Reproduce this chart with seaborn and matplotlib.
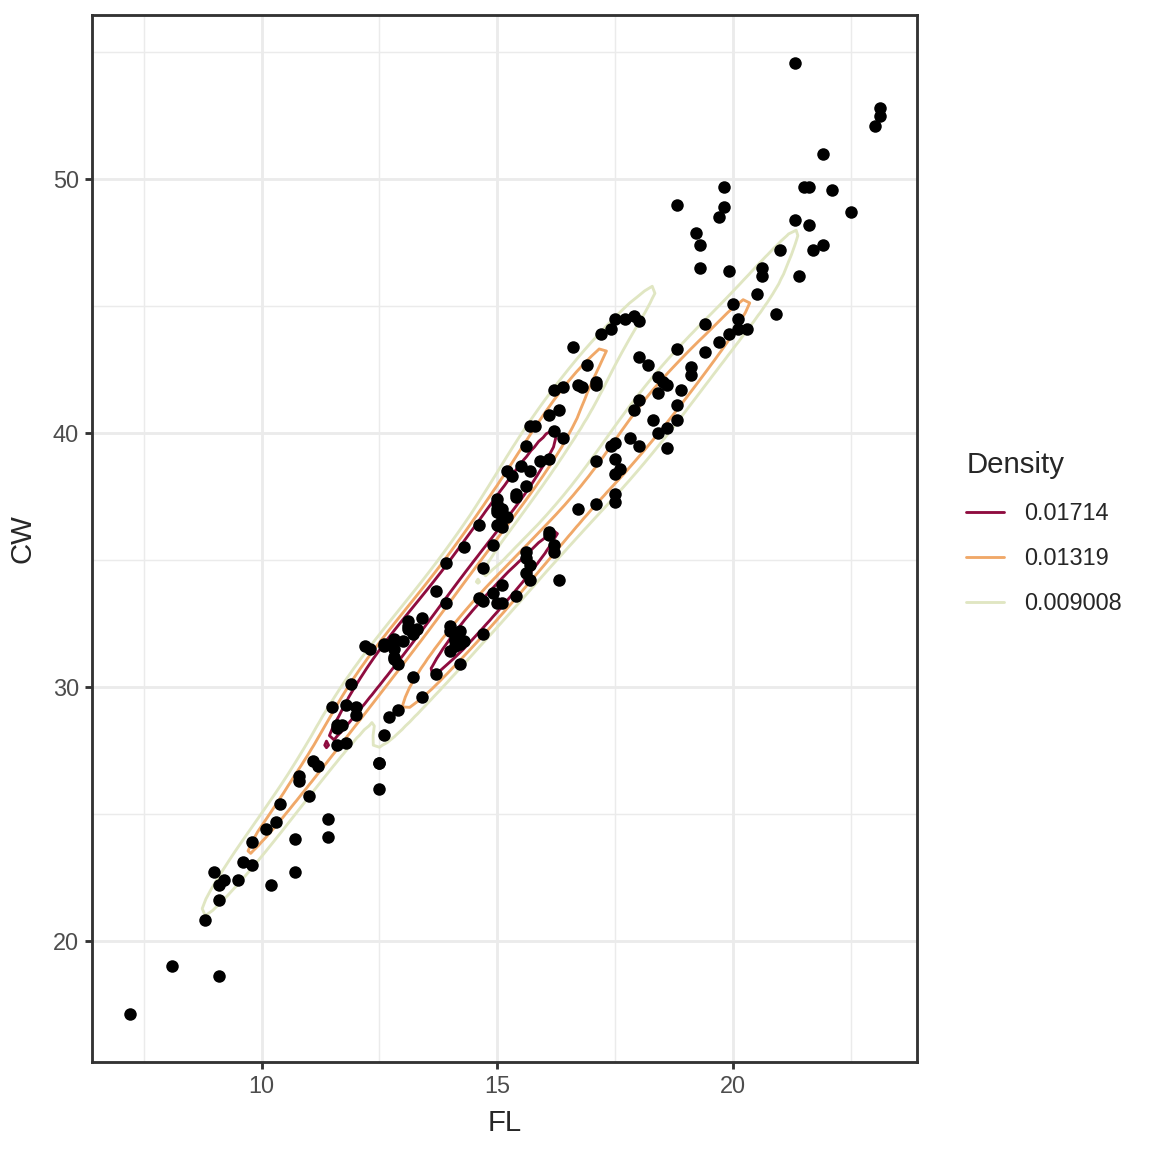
import numpy as np
import pandas as pd
import matplotlib
matplotlib.use("Agg")
import matplotlib.pyplot as plt
from matplotlib.lines import Line2D
import seaborn as sns

# crabs data: frontal lobe (FL) and carapace width (CW)
fl_blue_m = [8.1, 8.8, 9.2, 9.6, 9.8, 10.8, 11.1, 11.6, 11.8, 11.8, 12.2, 12.3, 12.6, 12.8, 12.8,
             12.9, 13.1, 13.1, 13.3, 13.9, 14.3, 14.6, 15.0, 15.0, 15.0, 15.2, 15.4, 15.7, 15.9, 16.1,
             16.1, 16.2, 16.3, 16.4, 16.6, 16.8, 16.9, 17.1, 17.1, 17.2, 17.7, 17.9, 18.0, 18.8, 19.3,
             19.3, 19.7, 19.8, 19.8, 21.3]
cw_blue_m = [19.0, 20.8, 22.4, 23.1, 23.0, 26.5, 27.1, 28.4, 27.8, 29.3, 31.6, 31.5, 31.7, 31.8, 31.5,
             30.9, 32.3, 32.4, 32.3, 33.3, 35.5, 36.4, 36.4, 37.0, 37.2, 36.7, 37.5, 40.3, 38.9, 39.0,
             40.7, 41.7, 40.9, 41.8, 43.4, 41.8, 42.7, 42.0, 41.9, 43.9, 44.5, 44.6, 44.4, 49.0, 47.4,
             46.5, 48.5, 49.7, 48.9, 54.6]
fl_blue_f = [7.2, 9.0, 9.1, 9.1, 9.5, 9.8, 10.1, 10.3, 10.4, 10.8, 11.0, 11.2, 11.5, 11.6, 11.6,
             11.7, 11.9, 12.0, 12.0, 12.6, 12.8, 12.8, 12.8, 13.0, 13.1, 13.2, 13.4, 13.7, 13.9, 14.7,
             14.9, 15.0, 15.0, 15.1, 15.1, 15.1, 15.2, 15.3, 15.4, 15.5, 15.6, 15.6, 15.7, 15.8, 16.2,
             16.4, 16.7, 17.4, 17.5, 19.2]
cw_blue_f = [17.1, 22.7, 21.6, 22.2, 22.4, 23.9, 24.4, 24.7, 25.4, 26.3, 25.7, 26.9, 29.2, 28.5, 27.7,
             28.5, 30.1, 28.9, 29.2, 31.6, 31.2, 31.1, 31.9, 31.8, 32.6, 32.1, 32.7, 33.8, 34.9, 34.7,
             35.6, 36.9, 37.4, 36.3, 37.0, 36.6, 38.5, 38.3, 37.6, 38.7, 37.9, 39.5, 38.5, 40.3, 40.1,
             39.8, 41.9, 44.1, 44.5, 47.9]
fl_orange_m = [9.1, 10.2, 10.7, 11.4, 12.5, 12.5, 12.7, 13.2, 13.4, 13.7, 14.0, 14.1, 14.1, 14.1, 14.2,
               14.2, 14.2, 14.6, 14.7, 15.1, 15.1, 15.4, 15.7, 16.2, 16.3, 17.1, 17.4, 17.5, 17.5, 17.8,
               17.9, 18.0, 18.2, 18.4, 18.6, 18.6, 18.8, 18.8, 19.4, 19.4, 20.1, 20.6, 21.0, 21.5, 21.6,
               21.6, 21.9, 22.1, 23.0, 23.1]
cw_orange_m = [18.6, 22.2, 22.7, 24.8, 26.0, 27.0, 28.8, 30.4, 29.6, 30.5, 32.2, 31.8, 31.6, 31.9, 31.7,
               30.9, 32.2, 33.5, 32.1, 33.3, 34.0, 33.6, 34.2, 35.3, 34.2, 38.9, 39.5, 37.3, 38.4, 39.8,
               40.9, 41.3, 42.7, 42.2, 41.9, 40.2, 41.1, 43.3, 43.2, 44.3, 44.5, 46.5, 47.2, 49.7, 49.7,
               48.2, 51.0, 49.6, 52.1, 52.8]
fl_orange_f = [10.7, 11.4, 12.5, 12.6, 12.9, 14.0, 14.0, 14.3, 14.7, 14.9, 15.0, 15.6, 15.6, 15.6, 15.7,
               16.1, 16.1, 16.2, 16.7, 17.1, 17.5, 17.5, 17.5, 17.6, 18.0, 18.0, 18.3, 18.4, 18.4, 18.5,
               18.6, 18.8, 18.9, 19.1, 19.1, 19.7, 19.9, 19.9, 20.0, 20.1, 20.3, 20.5, 20.6, 20.9, 21.3,
               21.4, 21.7, 21.9, 22.5, 23.1]
cw_orange_f = [24.0, 24.1, 27.0, 28.1, 29.1, 31.4, 32.4, 31.8, 33.4, 33.7, 33.3, 35.1, 35.3, 34.5, 34.8,
               36.0, 36.1, 35.6, 37.0, 37.2, 39.6, 39.0, 37.6, 38.6, 39.5, 43.0, 40.5, 40.0, 41.6, 42.0,
               39.4, 40.5, 41.7, 42.3, 42.6, 43.6, 43.9, 46.4, 45.1, 44.1, 44.1, 45.5, 46.2, 44.7, 48.4,
               46.2, 47.2, 47.4, 48.7, 52.5]

density_levels = [0.009008, 0.01319, 0.01714]
level_labels = ["0.009008", "0.01319", "0.01714"]
level_colors = ["#E0E6C2", "#F0A868", "#8F0C3F"]

df = pd.DataFrame({
    "FL": fl_blue_m + fl_blue_f + fl_orange_m + fl_orange_f,
    "CW": cw_blue_m + cw_blue_f + cw_orange_m + cw_orange_f,
})

# 2d gaussian kde, full covariance bandwidth
pts = df[["FL", "CW"]].values
n = len(pts)
factor = 0.30
H = np.cov(pts.T) * factor ** 2
Hinv = np.linalg.inv(H)
norm = 1 / (2 * np.pi * np.sqrt(np.linalg.det(H)) * n)

gx = np.linspace(df.FL.min(), df.FL.max(), 100)
gy = np.linspace(df.CW.min(), df.CW.max(), 100)
XX, YY = np.meshgrid(gx, gy)
grid = np.stack([XX.ravel(), YY.ravel()], axis=1)
d = grid[:, None, :] - pts[None, :, :]
q = np.einsum("gni,ij,gnj->gn", d, Hinv, d)
dens = (np.exp(-0.5 * q).sum(axis=1) * norm).reshape(XX.shape)

sns.set_theme(style="white")
plt.rcParams["font.family"] = ["Liberation Sans", "DejaVu Sans"]

fig = plt.figure(figsize=(6, 6), dpi=192)
ax = fig.add_axes([92 / 1152, 1 - 1062 / 1152, (917 - 92) / 1152, (1062 - 15) / 1152])

ax.contour(gx, gy, dens, levels=density_levels, colors=level_colors, linewidths=1.07, zorder=2)
sns.scatterplot(data=df, x="FL", y="CW", color="black", s=22, linewidth=0, ax=ax, zorder=3)

ax.set_xlim(6.405, 23.895)
ax.set_ylim(15.225, 56.475)
ax.set_xticks([10, 15, 20])
ax.set_yticks([20, 30, 40, 50])
ax.set_xticks([7.5, 12.5, 17.5, 22.5], minor=True)
ax.set_yticks([25, 35, 45, 55], minor=True)
ax.grid(True, which="major", color="#EBEBEB", linewidth=1.07, zorder=0)
ax.grid(True, which="minor", color="#EBEBEB", linewidth=0.53, zorder=0)
ax.set_axisbelow(True)
ax.tick_params(which="major", length=2.75, width=1.07, color="#333333", labelsize=8.8,
               labelcolor="#4D4D4D", pad=2.2, bottom=True, left=True)
ax.tick_params(which="minor", length=0)
for sp in ax.spines.values():
    sp.set_color("#333333")
    sp.set_linewidth(1.07)
ax.set_xlabel("FL", fontsize=11, labelpad=4)
ax.set_ylabel("CW", fontsize=11, labelpad=6)

handles = [Line2D([], [], color=c, linewidth=1.07) for c in level_colors[::-1]]
fig.legend(handles, level_labels[::-1], title="Density", loc="upper left",
           bbox_to_anchor=(943 / 1152, 1 - 428 / 1152), frameon=False, fontsize=8.8,
           title_fontsize=11, handlelength=1.6, handletextpad=0.85, labelspacing=0.95,
           borderpad=0.5, alignment="left")

fig.savefig("out.png", dpi=192)
